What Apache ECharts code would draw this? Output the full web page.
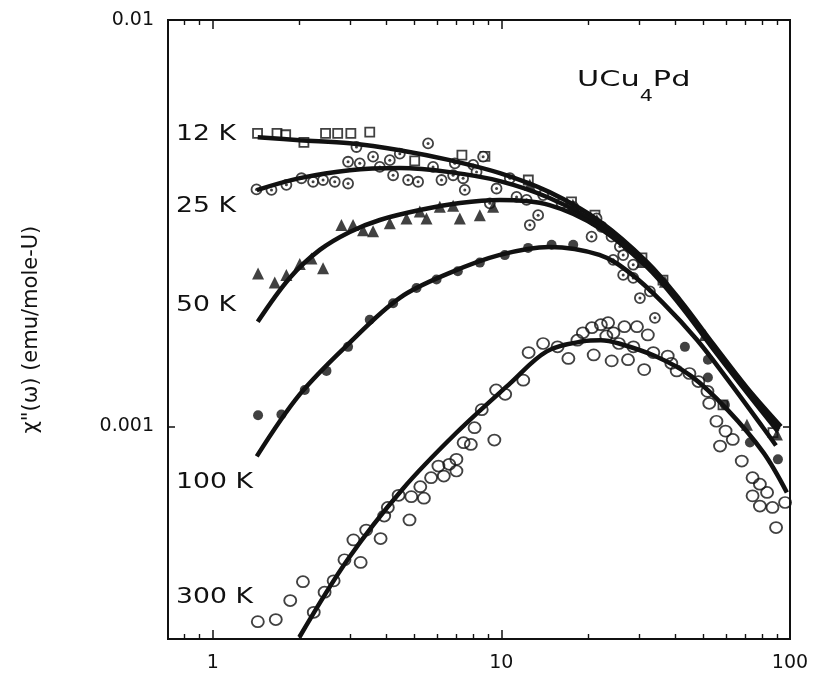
<!DOCTYPE html>
<html><head><meta charset="utf-8">
<script src="https://cdn.jsdelivr.net/npm/echarts@6/dist/echarts.min.js"></script>
<style>html,body{margin:0;padding:0;background:#fff}#chart{width:824px;height:676px}</style>
</head><body><div id="chart"></div>
<script>
// ---------- axis ranges & ticks ----------
const X_MIN = 0.7, X_MAX = 100, Y_MIN = 0.0003, Y_MAX = 0.01;
const xMinorTicks = [0.8, 0.9, 2, 3, 4, 5, 6, 7, 8, 9, 20, 30, 40, 50, 60, 70, 80, 90];

// ---------- data: 12 K (open squares) ----------
const x12 = [1.43,1.67,1.79,2.07,2.46,2.71,3.01,3.50,5.01,7.30,8.77,12.4,17.5,21.1,30.7,36.3,58.6,87.3];
const y12 = [0.00526,0.00526,0.00522,0.00500,0.00526,0.00526,0.00526,0.00530,0.00450,0.00465,0.00462,0.00404,0.00357,0.00331,0.00260,0.00229,0.00113,0.000966];
// ---------- 25 K (dotted circles) ----------
const x25 = [1.418,1.598,1.800,2.030,2.227,2.412,2.647,2.944,3.148,2.944,3.232,3.594,3.792,4.107,4.448,4.217,4.753,5.147,5.574,5.800,6.203,6.806,6.900,7.370,7.470,7.985,8.647,8.204,9.623,9.123,10.70,11.29,12.23,13.41,12.55,13.96,16.17,17.74,20.54,21.37,22.24,24.09,25.74,26.43,24.40,28.63,26.43,28.63,30.20,32.71,34.04];
const y25 = [0.00383,0.00382,0.00393,0.00408,0.00400,0.00404,0.00400,0.00396,0.00487,0.00448,0.00444,0.00461,0.00435,0.00452,0.00469,0.00415,0.00404,0.00400,0.00497,0.00435,0.00404,0.00415,0.00444,0.00408,0.00382,0.00440,0.00461,0.00423,0.00385,0.00354,0.00408,0.00367,0.00361,0.00331,0.00313,0.00371,0.00354,0.00347,0.00293,0.00325,0.00310,0.00293,0.00277,0.00264,0.00257,0.00250,0.00236,0.00232,0.00207,0.00215,0.00185];
// ---------- 50 K (filled triangles) ----------
const x50 = [1.436,1.640,1.800,2.002,2.198,2.412,2.793,3.064,3.318,3.594,4.107,4.693,5.218,5.504,6.120,6.806,7.180,8.423,9.366,12.55,17.69,21.42,30.69,36.87,50.74,70.94,90.1];
const y50 = [0.00238,0.00226,0.00236,0.00251,0.00259,0.00245,0.00313,0.00313,0.00304,0.00302,0.00316,0.00325,0.00338,0.00325,0.00347,0.00349,0.00325,0.00331,0.00347,0.00393,0.00351,0.00322,0.00254,0.00227,0.00168,0.00101,0.000956];
// ---------- 100 K (filled circles) ----------
const x100 = [1.436,1.730,2.084,2.478,2.944,3.500,4.217,5.082,5.962,7.066,8.423,10.28,12.38,14.93,17.74,43.24,51.95,51.95,59.51,72.65,90.82];
const y100 = [0.001066,0.00107,0.00123,0.00137,0.00157,0.00183,0.00201,0.00219,0.00230,0.00241,0.00253,0.00264,0.00275,0.00280,0.00280,0.00157,0.00146,0.00132,0.00113,0.000913,0.000830];
// ---------- 300 K (open circles) ----------
const x300 = [1.433,1.654,1.856,2.054,2.239,2.441,2.624,2.861,3.255,3.073,3.402,3.816,3.928,4.043,4.406,4.806,4.875,5.391,5.238,5.709,6.053,6.319,6.597,6.987,6.987,7.401,7.839,8.075,8.551,9.456,9.592,10.31,11.91,12.43,13.95,15.66,17.07,18.34,19.16,20.59,20.89,22.12,23.43,23.10,24.46,24.11,25.54,26.69,27.47,29.50,28.67,31.25,32.17,33.61,37.70,38.80,40.50,44.83,48.16,51.76,52.51,55.61,57.23,59.80,63.35,68.06,74.19,78.65,83.28,74.19,78.65,86.95,96.14,89.48];
const y300 = [0.000331,0.000335,0.000373,0.000415,0.000349,0.000391,0.000417,0.000470,0.000463,0.000526,0.000556,0.000530,0.000602,0.000632,0.000677,0.000589,0.000672,0.000666,0.000711,0.000748,0.000799,0.000755,0.000807,0.000830,0.000777,0.000912,0.000903,0.000993,0.00110,0.000926,0.00123,0.00120,0.00130,0.00152,0.00160,0.00157,0.00147,0.00163,0.00170,0.00175,0.00150,0.00178,0.00180,0.00167,0.00170,0.00145,0.00160,0.00176,0.00146,0.00176,0.00157,0.00138,0.00168,0.00152,0.00149,0.00143,0.00137,0.00135,0.00129,0.00122,0.00114,0.00103,0.000895,0.000974,0.000929,0.000822,0.000748,0.000721,0.000688,0.000675,0.000637,0.000632,0.000650,0.000564];

// ---------- fitted curves ----------
const fit12X = [1.432,2.002,2.984,4.449,6.626,9.883,14.68,21.86,31.93,41.56,54.08,70.94,93.02];
const fit12Y = [0.005148,0.005061,0.004976,0.004783,0.004520,0.004200,0.003772,0.003202,0.002541,0.002049,0.001599,0.001246,0.001000];
const fit25X = [1.421,2.002,2.984,4.449,6.626,9.883,14.68,21.86,31.93,41.56,54.08,70.94,91.55];
const fit25Y = [0.003815,0.004083,0.004272,0.004321,0.004224,0.004015,0.003648,0.003131,0.002497,0.002015,0.001572,0.001225,0.000983];
const fit50X = [1.432,1.848,2.349,2.984,3.792,5.218,7.180,9.883,14.68,21.86,31.93,41.56,54.08,70.94,90.82];
const fit50Y = [0.001810,0.002320,0.002719,0.003010,0.003221,0.003407,0.003546,0.003606,0.003505,0.003078,0.002469,0.001992,0.001554,0.001211,0.000972];
const fit100X = [1.421,2.002,2.984,4.449,6.626,9.883,14.68,21.86,27.88,36.29,47.59,61.93,80.60,89.42];
const fit100Y = [0.000844,0.001199,0.001608,0.002073,0.002387,0.002643,0.002765,0.002643,0.002387,0.002015,0.001634,0.001282,0.000994,0.000898];
const fit300X = [1.996,2.944,4.537,6.987,10.77,14.37,19.16,22.12,25.54,34.09,45.48,60.67,80.91,97.52];
const fit300Y = [0.000303,0.000472,0.000700,0.000965,0.00128,0.00153,0.00162,0.00163,0.00160,0.00149,0.00133,0.00110,0.000862,0.000688];

// ---------- text ----------
const curveLabels = ['12 K', '25 K', '50 K', '100 K', '300 K'];
const yTitle = 'χ"(ω) (emu/mole-U)';

// ---------- build ----------
const INK = '#111';
const pairs = (xs, ys) => xs.map((x, i) => [x, ys[i]]);

function scatter(name, xs, ys, symbol, size, filled, extra) {
  return Object.assign({
    name, type: 'scatter', data: pairs(xs, ys), symbol, symbolSize: size,
    itemStyle: filled ? { color: INK } : { color: 'rgba(255,255,255,0)', borderColor: INK, borderWidth: 1.8 },
    z: 3
  }, extra || {});
}
function curve(name, xs, ys) {
  return { name, type: 'line', data: pairs(xs, ys), showSymbol: false, smooth: 0.35,
    lineStyle: { color: INK, width: 4.5 }, z: 5 };
}
const labelFont = 'DejaVu Sans';
const labelY = [135, 207, 306, 483, 598];
const fmt = v => String(+(+v).toPrecision(3));
const frameLine = { show: true, onZero: false, lineStyle: { color: INK, width: 2 } };
const majorTick = len => ({ show: true, inside: true, length: len, lineStyle: { color: INK, width: 1.5 } });

// minor-tick helper axes: linear in log10 space over the same extent as the log axes
function minorXAxis(position) {
  return {
    type: 'value', position, min: Math.log10(X_MIN), max: Math.log10(X_MAX),
    axisLine: { show: false, onZero: false }, axisLabel: { show: false }, splitLine: { show: false },
    axisTick: { show: true, inside: true, length: 5, lineStyle: { color: INK, width: 1.4 },
                customValues: xMinorTicks.map(v => Math.log10(v)) }
  };
}

const option = {
  animation: false,
  backgroundColor: '#fff',
  grid: { left: 168, right: 34, top: 20, bottom: 37, show: true, borderColor: INK, borderWidth: 2 },
  xAxis: [
    { type: 'log', logBase: 10, min: X_MIN, max: X_MAX, position: 'bottom',
      axisLine: frameLine, axisTick: majorTick(9), splitLine: { show: false },
      axisLabel: { showMinLabel: false, margin: 15, color: INK, fontFamily: labelFont, fontSize: 19, formatter: fmt } },
    { type: 'log', logBase: 10, min: X_MIN, max: X_MAX, position: 'top',
      axisLine: frameLine, axisTick: majorTick(9), splitLine: { show: false }, axisLabel: { show: false } },
    minorXAxis('bottom'),
    minorXAxis('top')
  ],
  yAxis: [
    { type: 'log', logBase: 10, min: Y_MIN, max: Y_MAX, position: 'left',
      axisLine: frameLine, axisTick: majorTick(7), splitLine: { show: false },
      axisLabel: { showMinLabel: false, margin: 14, color: INK, fontFamily: labelFont, fontSize: 19, formatter: fmt },
      name: yTitle, nameLocation: 'middle', nameRotate: 90, nameGap: 126,
      nameTextStyle: { color: INK, fontFamily: labelFont, fontSize: 21 } },
    { type: 'log', logBase: 10, min: Y_MIN, max: Y_MAX, position: 'right',
      axisLine: frameLine, axisTick: majorTick(7), splitLine: { show: false }, axisLabel: { show: false } }
  ],
  series: [
    scatter('12 K', x12, y12, 'rect', 9, false),
    scatter('25 K', x25, y25, 'circle', 10, false, { itemStyle: { color: '#fff', borderColor: INK, borderWidth: 1.8 } }),
    scatter('25 K dot', x25, y25, 'circle', 3, true, { z: 4 }),
    scatter('50 K', x50, y50, 'triangle', 12, true),
    scatter('100 K', x100, y100, 'circle', 10, true),
    scatter('300 K', x300, y300, 'circle', [12, 11], false),
    curve('12 K fit', fit12X, fit12Y),
    curve('25 K fit', fit25X, fit25Y),
    curve('50 K fit', fit50X, fit50Y),
    curve('100 K fit', fit100X, fit100Y),
    curve('300 K fit', fit300X, fit300Y)
  ],
  graphic: curveLabels.map((t, i) => ({
    type: 'text', x: 176, y: labelY[i], scaleX: 1.27,
    style: { text: t, fill: INK, font: '21px "DejaVu Sans"', verticalAlign: 'middle', align: 'left' }
  })).concat([{
    type: 'text', x: 577, y: 69, scaleX: 1.38,
    style: {
      text: '{m|UCu}{s|4}{m|Pd}', verticalAlign: 'top', align: 'left',
      rich: {
        m: { fontFamily: 'DejaVu Sans', fontSize: 22, lineHeight: 26, verticalAlign: 'top', fill: INK },
        s: { fontFamily: 'DejaVu Sans', fontSize: 15, lineHeight: 36, padding: [24, 0, 0, 0], verticalAlign: 'bottom', fill: INK }
      }
    }
  }])
};

const chart = echarts.init(document.getElementById('chart'), null, { renderer: 'canvas' });
chart.setOption(option);
</script></body></html>
